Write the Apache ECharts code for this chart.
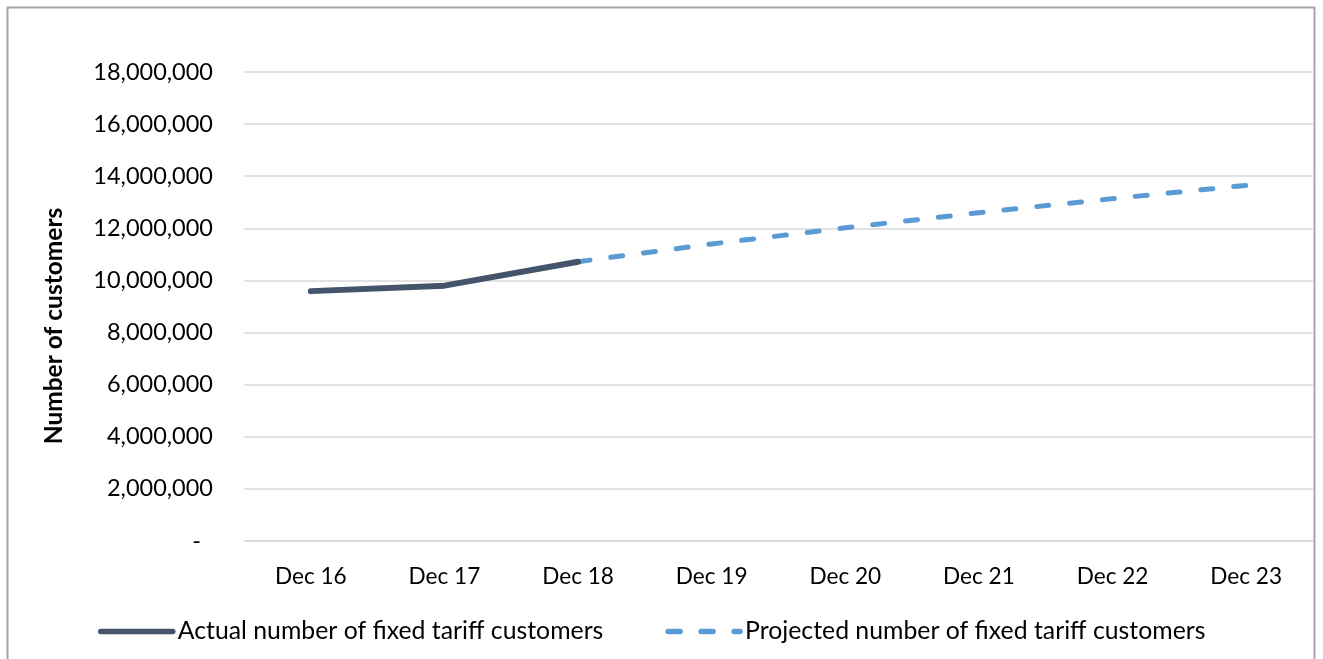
<!DOCTYPE html>
<html>
<head>
<meta charset="utf-8">
<title>Fixed tariff customers</title>
<script src="https://cdn.jsdelivr.net/npm/echarts@6/dist/echarts.min.js"></script>
<style>
  html, body { margin: 0; padding: 0; background: #ffffff; }
  #chart { width: 1323px; height: 659px; }
</style>
</head>
<body>
<div id="chart"></div>
<script>
// Year-end snapshots
const categories = ['Dec 16', 'Dec 17', 'Dec 18', 'Dec 19', 'Dec 20', 'Dec 21', 'Dec 22', 'Dec 23'];

// Recorded customer numbers (through Dec 18)
const actualCustomers = [9590000, 9800000, 10720000, null, null, null, null, null];

// Forecast, continuing from the last recorded value
const projectedCustomers = [null, null, 10720000, 11400000, 12020000, 12600000, 13140000, 13650000];

const seriesNames = ['Actual number of fixed tariff customers', 'Projected number of fixed tariff customers'];
const yAxisTitle = 'Number of customers';

const FONT = 'Lato, "Open Sans", sans-serif';
const TEXT_COLOR = '#000000';
const GRID_COLOR = '#d9d9d9';

const chart = echarts.init(document.getElementById('chart'), null, { renderer: 'canvas' });

chart.setOption({
  backgroundColor: '#ffffff',
  animation: false,
  textStyle: { fontFamily: FONT },
  grid: { left: 244, right: 10, top: 72, bottom: 118, containLabel: false },
  xAxis: {
    type: 'category',
    data: categories,
    boundaryGap: true,
    axisLine: { show: true, lineStyle: { color: GRID_COLOR, width: 1.5 } },
    axisTick: { show: false },
    axisLabel: { color: TEXT_COLOR, fontFamily: FONT, fontSize: 22.6, margin: 24 },
    splitLine: { show: false }
  },
  yAxis: {
    type: 'value',
    min: 0,
    max: 18000000,
    interval: 2000000,
    axisLine: { show: false },
    axisTick: { show: false },
    splitLine: { show: true, lineStyle: { color: GRID_COLOR, width: 1.5 } },
    axisLabel: {
      color: TEXT_COLOR,
      fontFamily: FONT,
      fontSize: 23.5,
      margin: 31,
      formatter: function (v) {
        if (v === 0) return '{z|-}';
        return v.toLocaleString('en-US');
      },
      rich: {
        z: { fontFamily: FONT, fontSize: 23.5, color: TEXT_COLOR, padding: [0, 12, 0, 0] }
      }
    }
  },
  legend: {
    left: 93,
    top: 614,
    itemWidth: 72,
    itemHeight: 14,
    itemGap: 62,
    itemStyle: { opacity: 0 },
    lineStyle: { width: 5.5, cap: 'round' },
    textStyle: { color: TEXT_COLOR, fontFamily: FONT, fontSize: 24.8 },
    data: seriesNames
  },
  graphic: [
    {
      type: 'rect',
      silent: true,
      shape: { x: 7.5, y: 7.5, width: 1307, height: 700 },
      style: { fill: 'none', stroke: '#a6a6a6', lineWidth: 2 }
    },
    {
      type: 'text',
      silent: true,
      x: 54,
      y: 326,
      rotation: Math.PI / 2,
      style: {
        text: yAxisTitle,
        fill: TEXT_COLOR,
        font: 'bold 24.5px ' + FONT,
        textAlign: 'center',
        textVerticalAlign: 'middle'
      }
    }
  ],
  series: [
    {
      name: seriesNames[0],
      type: 'line',
      data: actualCustomers,
      showSymbol: false,
      symbol: 'none',
      connectNulls: false,
      z: 3,
      itemStyle: { color: '#44546a' },
      lineStyle: { color: '#44546a', width: 6, cap: 'round', join: 'round' }
    },
    {
      name: seriesNames[1],
      type: 'line',
      data: projectedCustomers,
      showSymbol: false,
      symbol: 'none',
      connectNulls: false,
      z: 2,
      itemStyle: { color: '#5b9bd5' },
      lineStyle: { color: '#5b9bd5', width: 5, type: [12, 21], cap: 'round', join: 'round' }
    }
  ]
});
</script>
</body>
</html>
